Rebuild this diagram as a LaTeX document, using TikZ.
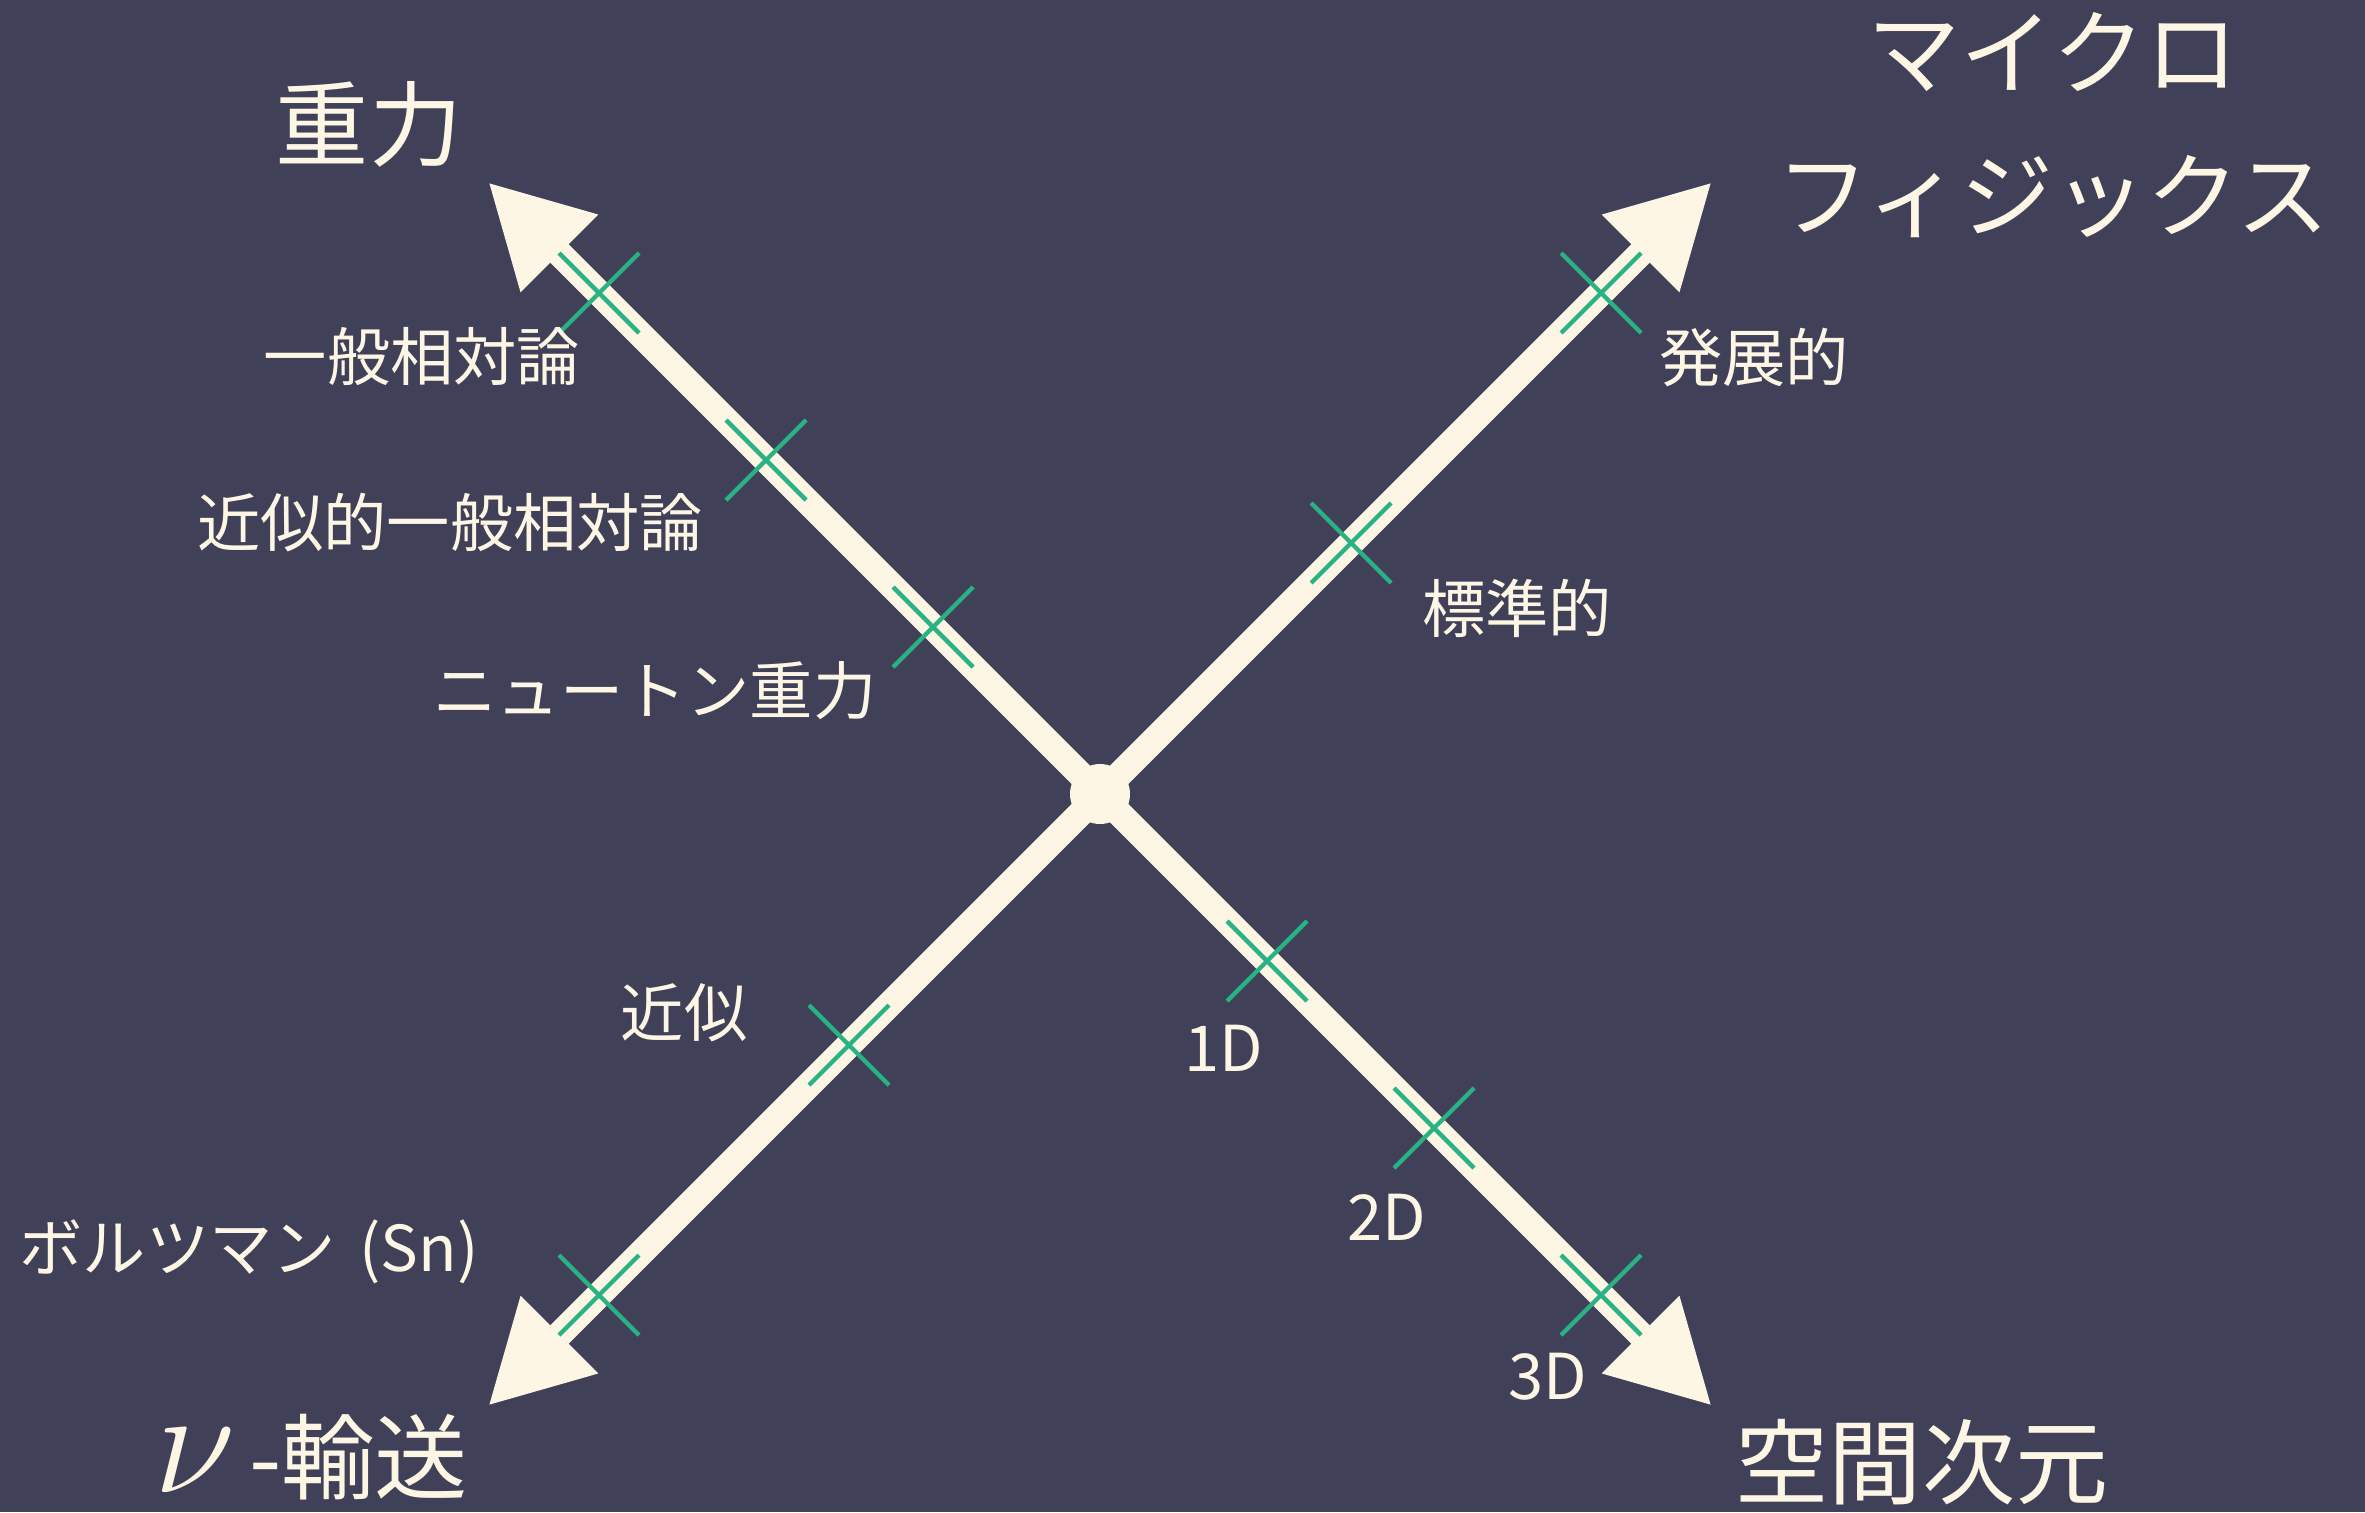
\documentclass[tikz,border=0pt]{standalone}
\usepackage{graphicx}
\usepackage{fontspec}
\setmainfont{Noto Sans CJK JP}
\usetikzlibrary{arrows.meta}
\definecolor{bg}{RGB}{64,65,89}
\definecolor{cream}{RGB}{253,246,228}
\definecolor{tgreen}{RGB}{41,178,132}
\tikzset{
  axisline/.style={line width=0.52cm, draw=cream, -{Triangle[length=2.02cm,width=2.04cm]}},
  tickline/.style={line width=0.085cm, draw=tgreen},
  tickx/.pic={\draw[tickline] (-40,-40) -- (40,40) (40,-40) -- (-40,40);},
  biglabel/.style={text=cream, font=\fontsize{53}{64}\selectfont, inner sep=0pt},
  katalabel/.style={text=cream, font=\fontsize{53}{81}\selectfont, inner sep=0pt, align=center},
  smalllabel/.style={text=cream, font=\fontsize{36}{43}\selectfont, inner sep=0pt},
}
\begin{document}
\begin{tikzpicture}[x=0.02cm, y=-0.02cm]
\fill[bg] (0,0) rectangle (2365,1512);
\useasboundingbox (0,0) rectangle (2365,1512);

\node[circle, fill=cream, minimum size=1.2cm, inner sep=0pt] (O) at (1100,794) {};
\coordinate (NWt) at (488,182);
\coordinate (NEt) at (1712,182);
\coordinate (SWt) at (488,1406);
\coordinate (SEt) at (1712,1406);

\draw[axisline] (O.center) -- (NWt);
\draw[axisline] (O.center) -- (NEt);
\draw[axisline] (O.center) -- (SWt);
\draw[axisline] (O.center) -- (SEt);

% ticks
\pic at (933,627) {tickx};
\pic at (766,460) {tickx};
\pic at (599,293) {tickx};
\pic at (1351,543) {tickx};
\pic at (1601,293) {tickx};
\pic at (849,1045) {tickx};
\pic at (599,1295) {tickx};
\pic at (1267,961) {tickx};
\pic at (1434,1128) {tickx};
\pic at (1601,1295) {tickx};

% big labels
\node[biglabel] (grav) at (369,124) {重力};
\node[katalabel] (micro) at (2053,125) {マイクロ\\フィジックス};
\node[biglabel, anchor=base east] (nu) at (468,1492) {\scalebox{3.4}{$\nu$}\hspace{0.14em}-輸送};
\node[biglabel] (dim) at (1922,1462) {空間次元};

% small labels
\node[smalllabel] (gr) at (422,357) {一般相対論};
\node[smalllabel] (agr) at (450,523) {近似的一般相対論};
\node[smalllabel] (newt) at (655,691) {ニュートン重力};
\node[smalllabel] (adv) at (1754,357) {発展的};
\node[smalllabel] (std) at (1517,608) {標準的};
\node[smalllabel] (appr) at (684,1013) {近似};
\node[smalllabel] (boltz) at (249,1252) {ボルツマン\hspace{0.15em} (Sn)};
\node[smalllabel] (d1) at (1224,1048) {1D};
\node[smalllabel] (d2) at (1387,1217) {2D};
\node[smalllabel] (d3) at (1548,1377) {3D};
\end{tikzpicture}
\end{document}
